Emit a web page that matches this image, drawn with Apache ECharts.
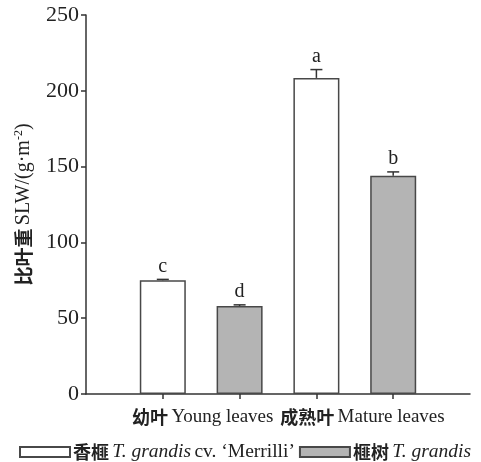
<!DOCTYPE html>
<html><head><meta charset="utf-8">
<script src="https://cdn.jsdelivr.net/npm/echarts@6/dist/echarts.min.js"></script>
<style>html,body{margin:0;padding:0;background:#fff}#c{width:481px;height:462px}</style>
</head><body><div id="c"></div>
<script>
// Bar positions (x-slot) for each series
const positionsXiangfei = [1, 3];
const positionsFeishu = [2, 4];
// Mean SLW values (g·m^-2)
const valuesXiangfei = [75, 208.5];
const valuesFeishu = [58, 144];
// Standard errors
const errXiangfei = [0.6, 5.5];
const errFeishu = [0.8, 2.5];
// Significance letters
const lettersXiangfei = ['c', 'a'];
const lettersFeishu = ['d', 'b'];
// Group labels
const groupLabels = ['幼叶 Young leaves', '成熟叶 Mature leaves'];
const groupLabelPos = [1.52, 3.6];
const yTicks = [0, 50, 100, 150, 200, 250];

const SERIF = '"Liberation Serif","Times New Roman",serif';
const CJK = '"Noto Sans CJK SC",sans-serif';

function pairs(xs, ys) { return xs.map((x, i) => [x, ys[i]]); }
function triples(xs, ys, es, ls) { return xs.map((x, i) => [x, ys[i], es[i], ls[i]]); }

function errRender(params, api) {
  const x = api.value(0), y = api.value(1), e = api.value(2);
  const letter = api.value(3);
  const top = api.coord([x, y + e]);
  const base = api.coord([x, y]);
  const hw = 6;
  return {
    type: 'group',
    children: [
      { type: 'line', shape: { x1: top[0], y1: base[1], x2: top[0], y2: top[1] }, style: { stroke: '#333', lineWidth: 1.5 } },
      { type: 'line', shape: { x1: top[0] - hw, y1: top[1], x2: top[0] + hw, y2: top[1] }, style: { stroke: '#333', lineWidth: 1.5 } },
      { type: 'text', style: { text: letter, x: top[0], y: top[1] - 3, align: 'center', verticalAlign: 'bottom', font: '20px ' + SERIF, fill: '#222' } }
    ]
  };
}

const chart = echarts.init(document.getElementById('c'), null, { renderer: 'canvas' });
const barStyleW = { color: '#ffffff', borderColor: '#484848', borderWidth: 1.5 };
const barStyleG = { color: '#b4b4b4', borderColor: '#484848', borderWidth: 1.5 };
const cnRich = {
  cn: { fontFamily: CJK, fontWeight: 'bold', fontSize: 18, color: '#222' },
  it: { fontFamily: SERIF, fontStyle: 'italic', fontSize: 19.5, color: '#222' },
  en: { fontFamily: SERIF, fontSize: 19.5, color: '#222' }
};
chart.setOption({
  animation: false,
  grid: { left: 86, right: 11, top: 15, bottom: 68, containLabel: false },
  xAxis: {
    type: 'value', min: 0, max: 5, interval: 1,
    splitLine: { show: false },
    axisLine: { show: true, lineStyle: { color: '#333', width: 1.5 } },
    axisTick: { show: true, customValues: [1, 2, 3, 4], length: 5, lineStyle: { color: '#333', width: 1.5 } },
    axisLabel: {
      customValues: groupLabelPos, margin: 14,
      formatter: function (v) {
        const i = groupLabelPos.indexOf(v);
        if (i < 0) return '';
        const parts = groupLabels[i].split(' ');
        return '{cn|' + parts[0] + '} {en|' + parts.slice(1).join(' ') + '}';
      },
      rich: { cn: { fontFamily: CJK, fontWeight: 'bold', fontSize: 18, color: '#222' }, en: { fontFamily: SERIF, fontSize: 19, color: '#222' } }
    }
  },
  yAxis: {
    type: 'value', min: 0, max: 250, interval: 50,
    splitLine: { show: false },
    axisLine: { show: true, lineStyle: { color: '#333', width: 1.5 } },
    axisTick: { show: true, inside: false, length: 5, lineStyle: { color: '#333', width: 1.5 } },
    axisLabel: { fontFamily: SERIF, fontSize: 22, color: '#222', margin: 7 },
    name: '{cn|比叶重} {en|SLW/(g·m}{sup|-2}{en|)}',
    nameLocation: 'middle', nameGap: 52,
    nameTextStyle: {
      rich: {
        cn: { fontFamily: CJK, fontWeight: 'bold', fontSize: 19, color: '#222' },
        en: { fontFamily: SERIF, fontSize: 20, color: '#222' },
        sup: { fontFamily: SERIF, fontSize: 12, color: '#222', verticalAlign: 'top', padding: [0, 0, 9, 0] }
      }
    }
  },
  legend: {
    left: 14, top: 437, itemWidth: 50, itemHeight: 10, itemGap: 4,
    icon: 'rect',
    data: ['xf', 'fs'],
    formatter: function (n) {
      return n === 'xf' ? '{cn|香榧} {it|T. grandis} {en|cv. ‘Merrilli’}' : '{cn|榧树} {it|T. grandis}';
    },
    textStyle: { rich: cnRich, padding: [0, 0, 0, -2] }
  },
  series: [
    { name: 'xf', type: 'bar', barWidth: 46, barGap: '-100%', itemStyle: barStyleW, data: pairs(positionsXiangfei, valuesXiangfei), z: 2 },
    { name: 'fs', type: 'bar', barWidth: 46, barGap: '-100%', itemStyle: barStyleG, data: pairs(positionsFeishu, valuesFeishu), z: 2 },
    { type: 'custom', renderItem: errRender, data: triples(positionsXiangfei, valuesXiangfei, errXiangfei, lettersXiangfei), z: 3 },
    { type: 'custom', renderItem: errRender, data: triples(positionsFeishu, valuesFeishu, errFeishu, lettersFeishu), z: 3 }
  ]
});
</script></body></html>
